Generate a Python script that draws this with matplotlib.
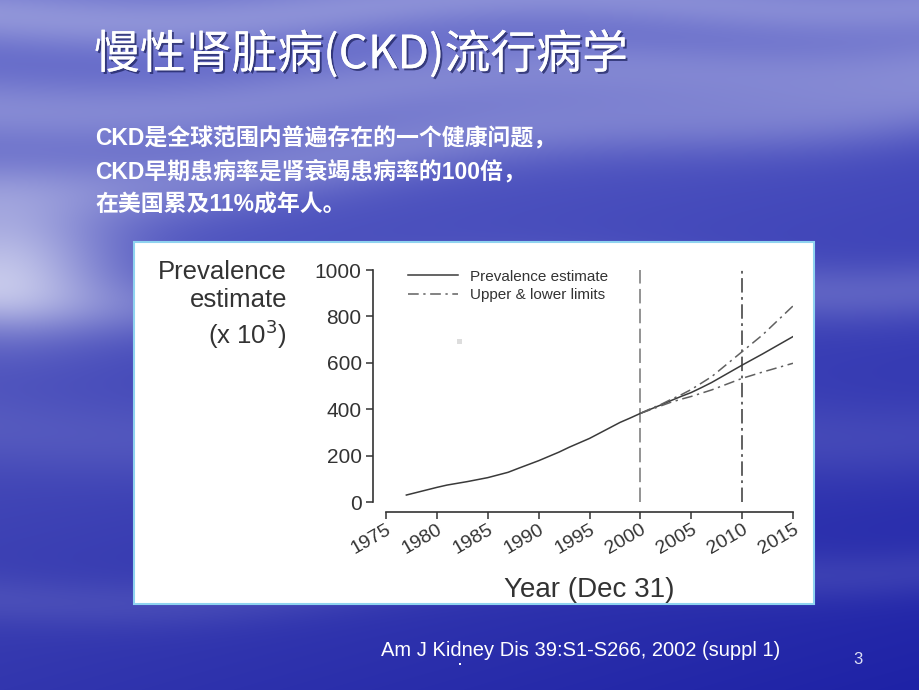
import matplotlib
matplotlib.use("Agg")
import matplotlib.pyplot as plt
import matplotlib.patheffects as pe
from matplotlib.patches import Rectangle
import numpy as np

# ── Data ────────────────────────────────────────────────────────────────────
YEARS = [1977, 1978, 1979, 1980, 1981, 1983, 1985, 1987, 1988, 1990, 1992,
         1993, 1995, 1997, 1998, 1999, 2000, 2001, 2002, 2003, 2004, 2005,
         2006, 2007, 2008, 2009, 2010, 2012, 2015]
ESTIMATE = [30, 41, 52, 63, 73, 88, 105, 128, 145, 178, 215,
            236, 274, 320, 343, 362, 382, 400, 418, 437, 455, 472,
            493, 515, 540, 565, 590, 638, 713]

LIMIT_YEARS = [2000, 2001, 2002, 2003, 2004, 2005, 2007, 2010, 2012, 2015]
UPPER = [382, 402, 420, 442, 462, 485, 540, 648, 720, 845]
LOWER = [382, 398, 414, 430, 443, 455, 483, 533, 560, 598]

MARKER_YEARS = [2000, 2010]
X_TICKS = [1975, 1980, 1985, 1990, 1995, 2000, 2005, 2010, 2015]
Y_TICKS = [0, 200, 400, 600, 800, 1000]

TITLE = "慢性肾脏病(CKD)流行病学"
BODY = ["CKD是全球范围内普遍存在的一个健康问题，",
        "CKD早期患病率是肾衰竭患病率的100倍，",
        "在美国累及11%成年人。"]
SOURCE = "Am J Kidney Dis 39:S1-S266, 2002 (suppl 1)"

plt.rcParams["font.family"] = ["Noto Sans CJK SC", "DejaVu Sans"]
CHART_FONT = ["Liberation Sans", "DejaVu Sans"]
INK = "#333333"

W, H = 920, 690
fig = plt.figure(figsize=(W / 100, H / 100), dpi=100)

# ── Sky / sea backdrop ──────────────────────────────────────────────────────
yy, xx = np.mgrid[0:H, 0:W].astype(float)
t = yy / H
u = xx / W
r = 100 - 50 * t - 20 * u
g = 106 - 52 * t - 20 * u
b = 202 - 28 * t - 8 * u
light = np.zeros_like(t)
for c0, slope, wid, amp in [(15, -0.02, 30, 0.35), (110, -0.06, 35, 0.30),
                            (190, -0.10, 35, 0.28), (300, -0.02, 30, 0.20),
                            (430, 0.00, 40, 0.10), (600, -0.04, 25, 0.10)]:
    centre = c0 + slope * xx + 10 * np.sin(xx / 110.0)
    light += amp * np.exp(-((yy - centre) / wid) ** 2)
# horizon glow on the left edge
light += 0.7 * np.exp(-((xx / 110.0) ** 2 + ((yy - 265) / 65.0) ** 2))
light = np.clip(light, 0, 0.85)
bg = np.stack([r + (228 - r) * light, g + (230 - g) * light,
               b + (246 - b) * light], axis=-1) / 255.0
ax_bg = fig.add_axes([0, 0, 1, 1])
ax_bg.imshow(np.clip(bg, 0, 1), aspect="auto", extent=(0, W, H, 0))
ax_bg.set_xlim(0, W)
ax_bg.set_ylim(H, 0)
ax_bg.axis("off")

# white panel holding the chart
ax_bg.add_patch(Rectangle((134, 242), 680, 362, facecolor="white",
                          edgecolor="#8fd3f0", lw=1.5))
ax_bg.add_patch(Rectangle((457, 339), 5, 5, facecolor="#dddddd", lw=0))
ax_bg.add_patch(Rectangle((459, 663), 2, 2, facecolor="white", lw=0))

# ── Slide text ──────────────────────────────────────────────────────────────
shadow = [pe.withSimplePatchShadow(offset=(1.5, -1.5), shadow_rgbFace="#1a1f5a",
                                   alpha=0.7), pe.Normal()]
ax_bg.text(94, 55, TITLE, fontsize=33, color="white", va="center",
           ha="left", path_effects=shadow)
for k, line in enumerate(BODY):
    ax_bg.text(95, 139 + 33 * k, line, fontsize=16.5, color="white",
               fontweight="bold", va="center", ha="left",
               family=["Liberation Sans", "Noto Sans CJK SC"])
ax_bg.text(381, 650, SOURCE, fontsize=14.5, color="white", va="center",
           ha="left", family=CHART_FONT)
ax_bg.text(858, 660, "3", fontsize=12, color="#dde0f5", va="center",
           ha="center", family=CHART_FONT)

# ── Chart ───────────────────────────────────────────────────────────────────
ax = fig.add_axes([386 / W, 1 - 502 / H, 407 / W, 232 / H])
ax.set_facecolor("none")
ax.set_xlim(1975, 2015)
ax.set_ylim(0, 1000)

for yr, col, dash in zip(MARKER_YEARS, ["#8a8a8a", "#555555"],
                         [(8, 3), (8, 2.5, 1.5, 2.5)]):
    ax.axvline(yr, color=col, lw=1.3, dashes=dash)

ax.plot(YEARS, ESTIMATE, color="#3a3a3a", lw=1.1,
        label="Prevalence estimate")
ax.plot(LIMIT_YEARS, UPPER, color="#606060", lw=1.1,
        dashes=(7, 3, 1.5, 3), label="Upper & lower limits")
ax.plot(LIMIT_YEARS, LOWER, color="#606060", lw=1.1,
        dashes=(7, 3, 1.5, 3))

ax.spines["top"].set_visible(False)
ax.spines["right"].set_visible(False)
ax.spines["left"].set_position(("outward", 9))
ax.spines["bottom"].set_position(("outward", 7))
for s in ("left", "bottom"):
    ax.spines[s].set_color(INK)
    ax.spines[s].set_linewidth(1.2)

ax.set_xticks(X_TICKS)
ax.set_yticks(Y_TICKS)
ax.tick_params(direction="out", length=5, width=1.1, color=INK,
               labelcolor=INK)
ax.tick_params(axis="x", pad=1.5)
ax.set_yticklabels([str(v) for v in Y_TICKS], fontsize=15,
                   family=CHART_FONT)
ax.set_xticklabels([str(v) for v in X_TICKS], fontsize=14,
                   family=CHART_FONT, rotation=30, ha="right",
                   rotation_mode="anchor")

ax.set_xlabel("Year (Dec 31)", fontsize=20, family=CHART_FONT, color=INK)
ax.xaxis.set_label_coords(0.5, -0.325)
ax.text(-0.243, 1.045, "Prevalence\nestimate\n(x 10$^3$)",
        transform=ax.transAxes, fontsize=18.5, family=CHART_FONT, color=INK,
        ha="right", va="top", linespacing=1.22)

ax.legend(loc="upper left", bbox_to_anchor=(0.038, 1.027), frameon=False,
          prop={"family": CHART_FONT, "size": 11}, handlelength=3.3,
          handletextpad=0.8, labelcolor=INK, borderaxespad=0,
          labelspacing=0.3)

fig.savefig("out.png", dpi=100)
